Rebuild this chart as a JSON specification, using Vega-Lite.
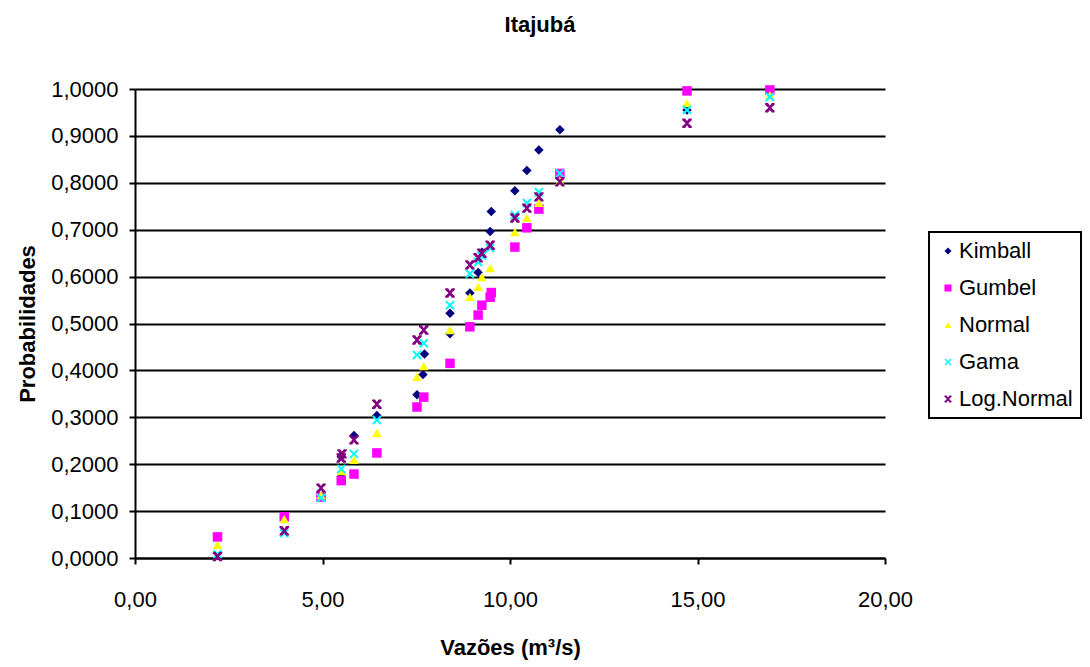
{
  "$schema": "https://vega.github.io/schema/vega-lite/v6.json",
  "width": 750,
  "height": 469,
  "autosize": {"type": "none"},
  "padding": {"left": 135, "top": 89, "right": 205, "bottom": 109},
  "background": "white",
  "title": {
    "text": "Itajubá",
    "font": "Liberation Sans",
    "fontSize": 22,
    "fontWeight": "bold",
    "color": "black",
    "anchor": "middle",
    "dx": 30,
    "offset": 41
  },
  "config": {
    "font": "Liberation Sans",
    "view": {"stroke": null},
    "locale": {"number": {"decimal": ",", "thousands": ".", "grouping": [3], "currency": ["R$", ""]}},
    "axis": {
      "labelFont": "Liberation Sans",
      "labelFontSize": 22,
      "labelColor": "black",
      "titleFont": "Liberation Sans",
      "titleFontSize": 22,
      "titleFontWeight": "bold",
      "titleColor": "black",
      "domainColor": "black",
      "domainWidth": 2,
      "tickColor": "black",
      "tickWidth": 2,
      "tickSize": 6,
      "labelFlush": false,
      "labelOverlap": false
    },
    "legend": {
      "strokeColor": "black",
      "strokeWidth": 2,
      "fillColor": "white"
    }
  },
  "data": {
    "values": [
      {"serie": "Kimball", "vazao": 2.2, "prob": 0.0435},
      {"serie": "Kimball", "vazao": 3.98, "prob": 0.087},
      {"serie": "Kimball", "vazao": 4.96, "prob": 0.13},
      {"serie": "Kimball", "vazao": 5.5, "prob": 0.174},
      {"serie": "Kimball", "vazao": 5.5, "prob": 0.217},
      {"serie": "Kimball", "vazao": 5.84, "prob": 0.261},
      {"serie": "Kimball", "vazao": 6.45, "prob": 0.304},
      {"serie": "Kimball", "vazao": 7.52, "prob": 0.348},
      {"serie": "Kimball", "vazao": 7.68, "prob": 0.391},
      {"serie": "Kimball", "vazao": 7.72, "prob": 0.435},
      {"serie": "Kimball", "vazao": 8.4, "prob": 0.478},
      {"serie": "Kimball", "vazao": 8.4, "prob": 0.522},
      {"serie": "Kimball", "vazao": 8.93, "prob": 0.565},
      {"serie": "Kimball", "vazao": 9.15, "prob": 0.609},
      {"serie": "Kimball", "vazao": 9.25, "prob": 0.652},
      {"serie": "Kimball", "vazao": 9.47, "prob": 0.696},
      {"serie": "Kimball", "vazao": 9.5, "prob": 0.739},
      {"serie": "Kimball", "vazao": 10.13, "prob": 0.783},
      {"serie": "Kimball", "vazao": 10.45, "prob": 0.826},
      {"serie": "Kimball", "vazao": 10.77, "prob": 0.87},
      {"serie": "Kimball", "vazao": 11.33, "prob": 0.913},
      {"serie": "Kimball", "vazao": 14.72, "prob": 0.955},

      {"serie": "Gumbel", "vazao": 2.2, "prob": 0.045},
      {"serie": "Gumbel", "vazao": 3.98, "prob": 0.088},
      {"serie": "Gumbel", "vazao": 4.96, "prob": 0.13},
      {"serie": "Gumbel", "vazao": 5.5, "prob": 0.165},
      {"serie": "Gumbel", "vazao": 5.84, "prob": 0.179},
      {"serie": "Gumbel", "vazao": 6.45, "prob": 0.224},
      {"serie": "Gumbel", "vazao": 7.52, "prob": 0.322},
      {"serie": "Gumbel", "vazao": 7.7, "prob": 0.343},
      {"serie": "Gumbel", "vazao": 8.4, "prob": 0.415},
      {"serie": "Gumbel", "vazao": 8.93, "prob": 0.493},
      {"serie": "Gumbel", "vazao": 9.15, "prob": 0.518},
      {"serie": "Gumbel", "vazao": 9.25, "prob": 0.539},
      {"serie": "Gumbel", "vazao": 9.47, "prob": 0.556},
      {"serie": "Gumbel", "vazao": 9.5, "prob": 0.566},
      {"serie": "Gumbel", "vazao": 10.13, "prob": 0.663},
      {"serie": "Gumbel", "vazao": 10.45, "prob": 0.704},
      {"serie": "Gumbel", "vazao": 10.77, "prob": 0.744},
      {"serie": "Gumbel", "vazao": 11.33, "prob": 0.82},
      {"serie": "Gumbel", "vazao": 14.72, "prob": 0.996},
      {"serie": "Gumbel", "vazao": 16.93, "prob": 0.998},

      {"serie": "Normal", "vazao": 2.2, "prob": 0.028},
      {"serie": "Normal", "vazao": 3.98, "prob": 0.083},
      {"serie": "Normal", "vazao": 4.96, "prob": 0.134},
      {"serie": "Normal", "vazao": 5.5, "prob": 0.185},
      {"serie": "Normal", "vazao": 5.84, "prob": 0.209},
      {"serie": "Normal", "vazao": 6.45, "prob": 0.267},
      {"serie": "Normal", "vazao": 7.52, "prob": 0.386},
      {"serie": "Normal", "vazao": 7.7, "prob": 0.409},
      {"serie": "Normal", "vazao": 8.4, "prob": 0.486},
      {"serie": "Normal", "vazao": 8.93, "prob": 0.557},
      {"serie": "Normal", "vazao": 9.15, "prob": 0.578},
      {"serie": "Normal", "vazao": 9.25, "prob": 0.599},
      {"serie": "Normal", "vazao": 9.47, "prob": 0.618},
      {"serie": "Normal", "vazao": 10.13, "prob": 0.695},
      {"serie": "Normal", "vazao": 10.45, "prob": 0.725},
      {"serie": "Normal", "vazao": 10.77, "prob": 0.757},
      {"serie": "Normal", "vazao": 11.33, "prob": 0.804},
      {"serie": "Normal", "vazao": 14.72, "prob": 0.97},
      {"serie": "Normal", "vazao": 16.93, "prob": 0.987},

      {"serie": "Gama", "vazao": 2.2, "prob": 0.008},
      {"serie": "Gama", "vazao": 3.98, "prob": 0.053},
      {"serie": "Gama", "vazao": 4.96, "prob": 0.128},
      {"serie": "Gama", "vazao": 5.5, "prob": 0.19},
      {"serie": "Gama", "vazao": 5.84, "prob": 0.222},
      {"serie": "Gama", "vazao": 6.45, "prob": 0.294},
      {"serie": "Gama", "vazao": 7.52, "prob": 0.433},
      {"serie": "Gama", "vazao": 7.7, "prob": 0.458},
      {"serie": "Gama", "vazao": 8.4, "prob": 0.539},
      {"serie": "Gama", "vazao": 8.93, "prob": 0.606},
      {"serie": "Gama", "vazao": 9.15, "prob": 0.631},
      {"serie": "Gama", "vazao": 9.25, "prob": 0.645},
      {"serie": "Gama", "vazao": 9.47, "prob": 0.661},
      {"serie": "Gama", "vazao": 10.13, "prob": 0.731},
      {"serie": "Gama", "vazao": 10.45, "prob": 0.757},
      {"serie": "Gama", "vazao": 10.77, "prob": 0.78},
      {"serie": "Gama", "vazao": 11.33, "prob": 0.82},
      {"serie": "Gama", "vazao": 14.72, "prob": 0.955},
      {"serie": "Gama", "vazao": 16.93, "prob": 0.983},

      {"serie": "Log.Normal", "vazao": 2.2, "prob": 0.003},
      {"serie": "Log.Normal", "vazao": 3.98, "prob": 0.058},
      {"serie": "Log.Normal", "vazao": 4.96, "prob": 0.149},
      {"serie": "Log.Normal", "vazao": 5.5, "prob": 0.213},
      {"serie": "Log.Normal", "vazao": 5.52, "prob": 0.222},
      {"serie": "Log.Normal", "vazao": 5.84, "prob": 0.252},
      {"serie": "Log.Normal", "vazao": 6.45, "prob": 0.328},
      {"serie": "Log.Normal", "vazao": 7.52, "prob": 0.465},
      {"serie": "Log.Normal", "vazao": 7.7, "prob": 0.486},
      {"serie": "Log.Normal", "vazao": 8.4, "prob": 0.565},
      {"serie": "Log.Normal", "vazao": 8.93, "prob": 0.625},
      {"serie": "Log.Normal", "vazao": 9.15, "prob": 0.64},
      {"serie": "Log.Normal", "vazao": 9.25, "prob": 0.65},
      {"serie": "Log.Normal", "vazao": 9.47, "prob": 0.667},
      {"serie": "Log.Normal", "vazao": 10.13, "prob": 0.725},
      {"serie": "Log.Normal", "vazao": 10.45, "prob": 0.746},
      {"serie": "Log.Normal", "vazao": 10.77, "prob": 0.77},
      {"serie": "Log.Normal", "vazao": 11.33, "prob": 0.802},
      {"serie": "Log.Normal", "vazao": 14.72, "prob": 0.927},
      {"serie": "Log.Normal", "vazao": 16.93, "prob": 0.96}
    ]
  },
  "mark": {"type": "point", "filled": true, "size": 90, "opacity": 1},
  "encoding": {
    "x": {
      "field": "vazao",
      "type": "quantitative",
      "scale": {"domain": [0, 20], "nice": false},
      "axis": {
        "values": [0, 5, 10, 15, 20],
        "format": ".2f",
        "grid": false,
        "labelPadding": 25,
        "title": "Vazões (m³/s)",
        "titlePadding": 27
      }
    },
    "y": {
      "field": "prob",
      "type": "quantitative",
      "scale": {"domain": [0, 1], "nice": false},
      "axis": {
        "values": [0, 0.1, 0.2, 0.3, 0.4, 0.5, 0.6, 0.7, 0.8, 0.9, 1],
        "format": ".4f",
        "grid": true,
        "gridColor": "black",
        "gridWidth": 2,
        "gridOpacity": 1,
        "labelPadding": 11,
        "title": "Probabilidades",
        "titlePadding": 11
      }
    },
    "color": {
      "field": "serie",
      "type": "nominal",
      "scale": {
        "domain": ["Kimball", "Gumbel", "Normal", "Gama", "Log.Normal"],
        "range": ["#000080", "#FF00FF", "#FFFF00", "#00FFFF", "#800080"]
      },
      "legend": {
        "title": null,
        "orient": "none",
        "legendX": 794,
        "legendY": 143,
        "padding": 8,
        "rowPadding": 15,
        "symbolSize": 50,
        "symbolStrokeWidth": 0,
        "labelOffset": 0,
        "labelFont": "Liberation Sans",
        "labelFontSize": 22,
        "labelColor": "black"
      }
    },
    "shape": {
      "field": "serie",
      "type": "nominal",
      "scale": {
        "domain": ["Kimball", "Gumbel", "Normal", "Gama", "Log.Normal"],
        "range": [
          "diamond",
          "square",
          "triangle-up",
          "M-1,-0.7L-0.7,-1L0,-0.3L0.7,-1L1,-0.7L0.3,0L1,0.7L0.7,1L0,0.3L-0.7,1L-1,0.7L-0.3,0Z",
          "M-1,-1H-0.4L0,-0.45L0.4,-1H1V-0.65L0.3,0L1,0.65V1H0.4L0,0.45L-0.4,1H-1V0.65L-0.3,0L-1,-0.65Z"
        ]
      },
      "legend": {
        "title": null,
        "orient": "none",
        "legendX": 794,
        "legendY": 143
      }
    }
  }
}
